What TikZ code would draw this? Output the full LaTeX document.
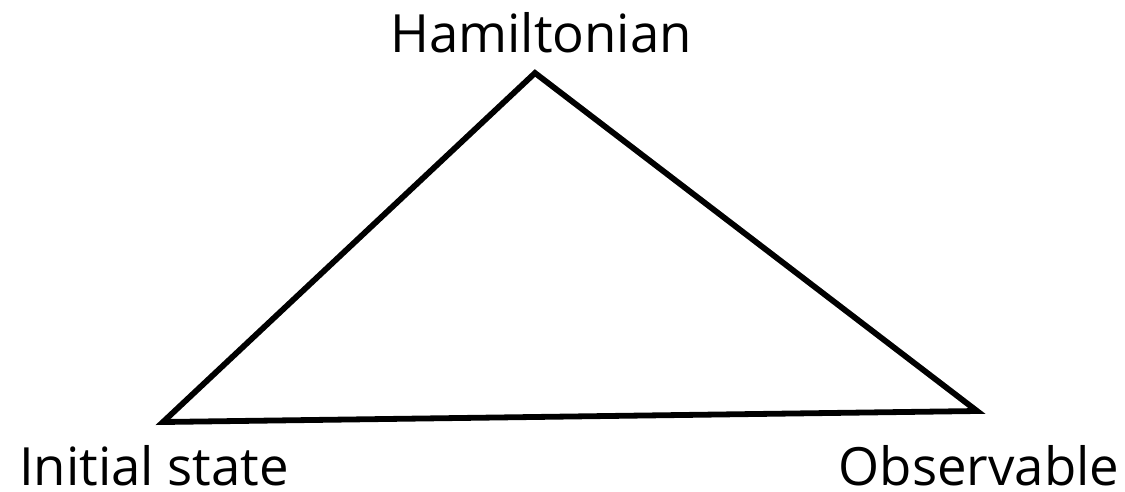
\documentclass[tikz,border=0pt]{standalone}
\usepackage{fontspec}
\setmainfont{Open Sans}
\usetikzlibrary{positioning}
\tikzset{
  vlabel/.style={font=\fontsize{30}{35}\selectfont, inner sep=0pt, anchor=base},
  edge/.style={line width=3.3pt, line join=miter},
}

\begin{document}
\begin{tikzpicture}[x=0.02cm, y=-0.02cm]
  \useasboundingbox (0,0) rectangle (1125,491);

  % corners
  \coordinate (top) at (535,73);
  \coordinate (left) at (163,422);
  \coordinate (right) at (977,411);

  \node[vlabel] (ham) at (541,52) {Hamiltonian};
  \node[vlabel] (init) at (154,485) {Initial state};
  \node[vlabel] (obs) at (979,485) {Observable};

  \draw[edge] (left) -- (top) -- (right) -- cycle;

\end{tikzpicture}
\end{document}
